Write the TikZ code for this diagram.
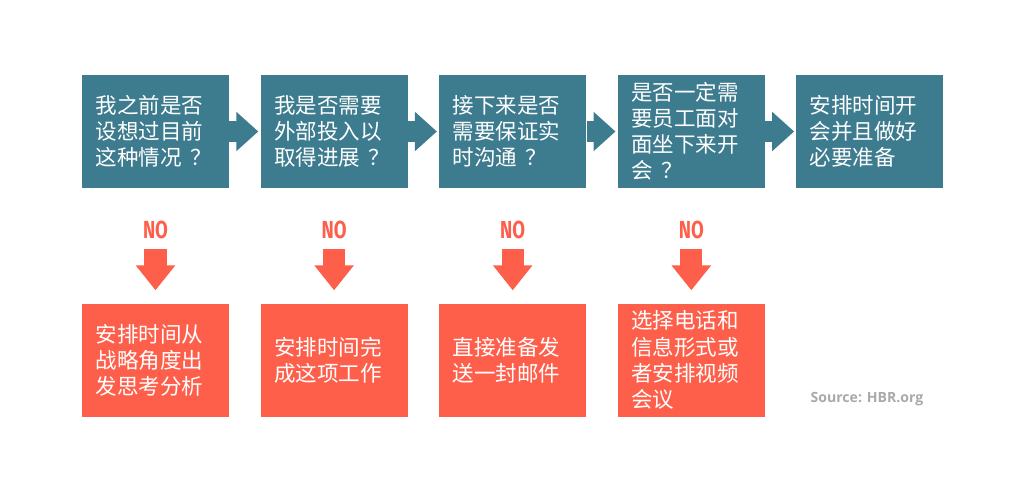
\documentclass[tikz,border=0pt]{standalone}
\usepackage{fontspec}
\newfontfamily\cjk{Noto Sans CJK SC}
\newfontfamily\nofont{Fira Sans}[FakeStretch=0.75]
\newfontfamily\srcfont{Open Sans}
\usetikzlibrary{arrows.meta, positioning}

\definecolor{stepteal}{HTML}{3D7B8E}
\definecolor{answerred}{HTML}{FE5F4B}
\definecolor{srcgray}{HTML}{A9A9A9}

\tikzset{
	question/.style={fill=stepteal, text=white, inner sep=0pt,
		minimum width=3.675cm, minimum height=2.825cm,
		text width=3.0cm, align=left,
		font=\cjk\fontsize{15.3}{18.6}\selectfont},
	answer/.style={question, fill=answerred},
	nolabel/.style={text=answerred, inner sep=0pt, anchor=north,
		font=\nofont\bfseries\fontsize{17.5}{18}\selectfont},
	nextarrow/.style={stepteal, line width=0.5cm,
		-{Triangle[length=0.55cm, width=0.95cm]}, shorten >=0.05cm},
	downarrow/.style={answerred, line width=0.55cm,
		-{Triangle[length=0.625cm, width=0.95cm]},
		shorten <=0.25cm, shorten >=0.325cm}
}
\newcommand{\qmark}{\hspace{0.4em}？}

\begin{document}
\begin{tikzpicture}[x=0.025cm, y=-0.025cm]
		
		% Fix the page to the reference size
		\useasboundingbox (0,0) rectangle (1024,491);
		
		% Question boxes along the top row
		\node[question] (q1) at (155.5,131.5) {我之前是否\\设想过目前\\这种情况\qmark};
		\node[question, right=0.775cm of q1] (q2) {我是否需要\\外部投入以\\取得进展\qmark};
		\node[question, right=0.775cm of q2] (q3) {接下来是否\\需要保证实\\时沟通\qmark};
		\node[question, right=0.775cm of q3] (q4) {是否一定需\\要员工面对\\面坐下来开\\会\qmark};
		\node[question, right=0.775cm of q4] (q5) {安排时间开\\会并且做好\\必要准备};
		
		% Arrows between the questions
		\draw[nextarrow] (q1.east) -- (q2.west);
		\draw[nextarrow] (q2.east) -- (q3.west);
		\draw[nextarrow] (q3.east) -- (q4.west);
		\draw[nextarrow] (q4.east) -- (q5.west);
		
		% NO labels under the first four questions
		\node[nolabel, below=0.8cm of q1] (no1) {NO};
		\node[nolabel, below=0.8cm of q2] (no2) {NO};
		\node[nolabel, below=0.8cm of q3] (no3) {NO};
		\node[nolabel, below=0.8cm of q4] (no4) {NO};
		
		% Answer boxes along the bottom row
		\node[answer, below=2.875cm of q1] (a1) {安排时间从\\战略角度出\\发思考分析};
		\node[answer, below=2.875cm of q2] (a2) {安排时间完\\成这项工作};
		\node[answer, below=2.875cm of q3] (a3) {直接准备发\\送一封邮件};
		\node[answer, below=2.875cm of q4] (a4) {选择电话和\\信息形式或\\者安排视频\\会议};
		
		% Red arrows from each NO down to its answer
		\draw[downarrow] (no1.south) -- (a1.north);
		\draw[downarrow] (no2.south) -- (a2.north);
		\draw[downarrow] (no3.south) -- (a3.north);
		\draw[downarrow] (no4.south) -- (a4.north);
		
		% Source note
		\node[text=srcgray, font=\srcfont\bfseries\fontsize{10}{12}\selectfont] (src) at (867,399) {Source: HBR.org};
		
	\end{tikzpicture}
\end{document}
